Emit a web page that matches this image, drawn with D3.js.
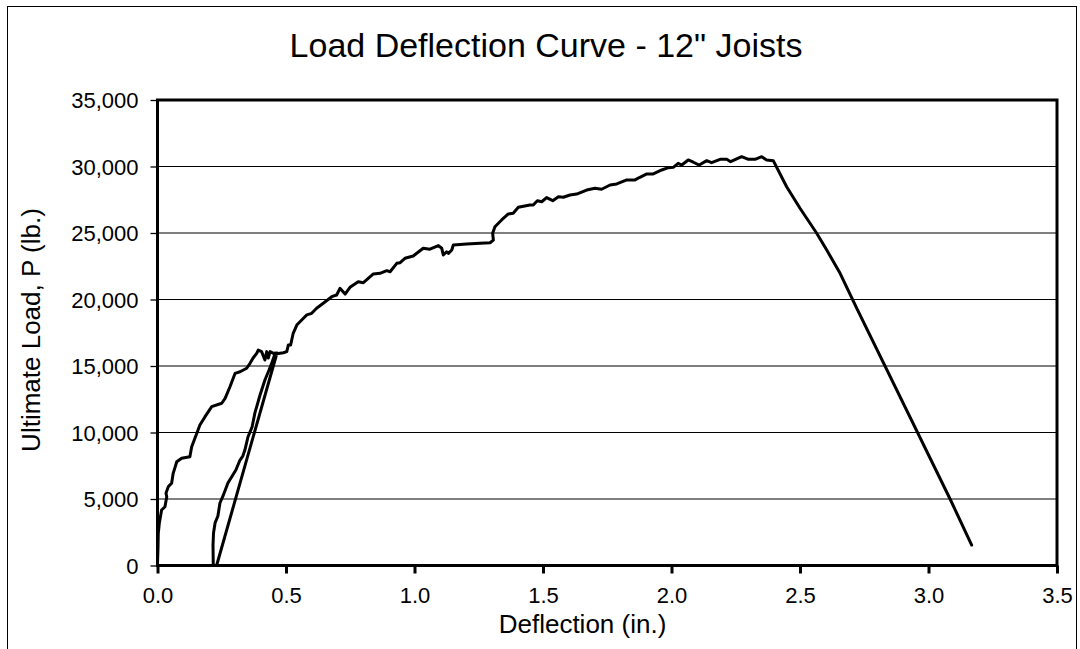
<!DOCTYPE html>
<html>
<head>
<meta charset="utf-8">
<script src="https://cdn.jsdelivr.net/npm/d3@7"></script>
<style>
  html, body { margin: 0; padding: 0; background: #fff; }
  svg { display: block; font-family: "Liberation Sans", Arial, sans-serif; }
</style>
</head>
<body>
<svg id="chart" width="1080" height="649"></svg>
<script>
// ---- data ----
const title = 'Load Deflection Curve - 12" Joists';
const xTitle = 'Deflection (in.)';
const yTitle = 'Ultimate Load, P (lb.)';
const xTicks = [0, 0.5, 1.0, 1.5, 2.0, 2.5, 3.0, 3.5];
const yTicks = [0, 5000, 10000, 15000, 20000, 25000, 30000, 35000];

// initial loading
const loadingDefl = [0.000,0.000,0.002,0.003,0.007,0.016,0.029,0.036,0.033,0.042,0.055,0.061,0.075,0.094,0.126,0.133,0.153,0.165,0.185,0.211,0.250,0.263,0.282,0.302,0.321,0.347,0.360,0.372,0.386,0.392,0.405,0.418,0.425,0.431,0.438,0.451,0.465];
const loadingLoad = [0,170,1400,2420,3170,4170,4420,5170,5430,5930,6180,6930,7800,8060,8180,8930,9940,10560,11190,11940,12200,12570,13440,14450,14570,14830,15200,15600,15950,16200,16080,15450,16080,15600,16080,15950,15980];
// unloading
const unloadDefl = [0.230];
const unloadLoad = [0];
// reloading
const reloadDefl = [0.217,0.216,0.218,0.224,0.235,0.243,0.255,0.274,0.305,0.321,0.332,0.340,0.352,0.368,0.379,0.399,0.418,0.434,0.446,0.457];
const reloadLoad = [0,1540,2440,3200,3720,4700,5230,6200,7180,7930,8230,8680,9660,10410,11470,12820,13950,14700,15300,15900];
// continued loading to failure
const failDefl = [0.490,0.503,0.509,0.518,0.528,0.542,0.561,0.581,0.600,0.619,0.645,0.678,0.697,0.710,0.730,0.749,0.781,0.801,0.840,0.866,0.892,0.905,0.931,0.944,0.963,0.995,1.034,1.060,1.093,1.106,1.112,1.125,1.132,1.145,1.151,1.203,1.255,1.294,1.307,1.304,1.313,1.339,1.365,1.384,1.404,1.449,1.462,1.478,1.495,1.514,1.538,1.560,1.579,1.605,1.631,1.670,1.702,1.728,1.761,1.787,1.826,1.858,1.877,1.904,1.929,1.962,1.988,2.007,2.026,2.040,2.065,2.085,2.108,2.137,2.156,2.189,2.215,2.230,2.273,2.299,2.325,2.351,2.370,2.396,2.448,2.500,2.565,2.604,2.656,2.721,3.084,3.168];
const failLoad = [16000,16080,16580,16580,17460,18080,18460,18840,18960,19340,19720,20210,20340,20840,20410,20920,21340,21260,21920,21970,22170,22090,22720,22770,23100,23270,23850,23780,24050,23850,23350,23590,23470,23720,24100,24170,24230,24270,24470,24980,25470,25980,26430,26480,26930,27110,27110,27430,27350,27660,27430,27730,27690,27860,27930,28230,28360,28290,28610,28690,28990,28990,29190,29440,29440,29740,29910,29940,30240,30110,30490,30320,30110,30440,30290,30540,30540,30360,30740,30540,30540,30740,30490,30440,28480,26860,24980,23720,21970,19340,5000,1540];

const defl = [].concat(loadingDefl, unloadDefl, reloadDefl, failDefl);
const load = [].concat(loadingLoad, unloadLoad, reloadLoad, failLoad);
const points = defl.map((d, i) => ({ x: d, y: load[i] }));

// ---- layout ----
const svg = d3.select('#chart');
const L = 157.5, R = 1057, T = 100, B = 565.5;

svg.append('rect').attr('width', 1080).attr('height', 649).attr('fill', '#fff');
// outer chart border
svg.append('rect').attr('x', 7.5).attr('y', 6.5).attr('width', 1069).attr('height', 700)
  .attr('fill', 'none').attr('stroke', '#000').attr('stroke-width', 1);

const x = d3.scaleLinear().domain([0, 3.5]).range([L, R]);
const y = d3.scaleLinear().domain([0, 35000]).range([B, T]);

// gridlines
svg.append('g').selectAll('line').data(yTicks.filter(v => v > 0 && v < 35000)).join('line')
  .attr('x1', L).attr('x2', R).attr('y1', d => y(d)).attr('y2', d => y(d))
  .attr('stroke', '#000').attr('stroke-width', 1);

// y axis
const yAxis = d3.axisLeft(y).tickValues(yTicks).tickSize(7).tickPadding(12)
  .tickFormat(d3.format(',d'));
const gy = svg.append('g').attr('transform', `translate(${L},0)`).call(yAxis);
gy.select('.domain').remove();
gy.selectAll('.tick line').attr('stroke', '#000').attr('stroke-width', 1.3);
gy.selectAll('.tick text').attr('font-size', 22).attr('fill', '#000')
  .attr('font-family', '"Liberation Sans", Arial, sans-serif').attr('dy', '0.36em');

// x axis
const xAxis = d3.axisBottom(x).tickValues(xTicks).tickSize(8).tickPadding(14)
  .tickFormat(d3.format('.1f'));
const gx = svg.append('g').attr('transform', `translate(0,${B})`).call(xAxis);
gx.select('.domain').remove();
gx.selectAll('.tick line').attr('stroke', '#000').attr('stroke-width', 3);
gx.selectAll('.tick text').attr('font-size', 22).attr('fill', '#000')
  .attr('font-family', '"Liberation Sans", Arial, sans-serif').attr('dy', '0.71em');

// data line
const line = d3.line().x(d => x(d.x)).y(d => y(d.y));
svg.append('path').datum(points).attr('d', line)
  .attr('fill', 'none').attr('stroke', '#000').attr('stroke-width', 3)
  .attr('stroke-linejoin', 'round').attr('stroke-linecap', 'round');

// plot area border
svg.append('rect').attr('x', L).attr('y', T).attr('width', R - L).attr('height', B - T)
  .attr('fill', 'none').attr('stroke', '#000').attr('stroke-width', 3);

// titles
svg.append('text').attr('x', 546).attr('y', 57).attr('text-anchor', 'middle')
  .attr('font-size', 34).attr('fill', '#000').text(title);
svg.append('text').attr('x', 582.5).attr('y', 633).attr('text-anchor', 'middle')
  .attr('font-size', 26).attr('fill', '#000').text(xTitle);
svg.append('text').attr('transform', 'translate(40,330) rotate(-90)').attr('text-anchor', 'middle')
  .attr('font-size', 26).attr('fill', '#000').text(yTitle);
</script>
</body>
</html>
